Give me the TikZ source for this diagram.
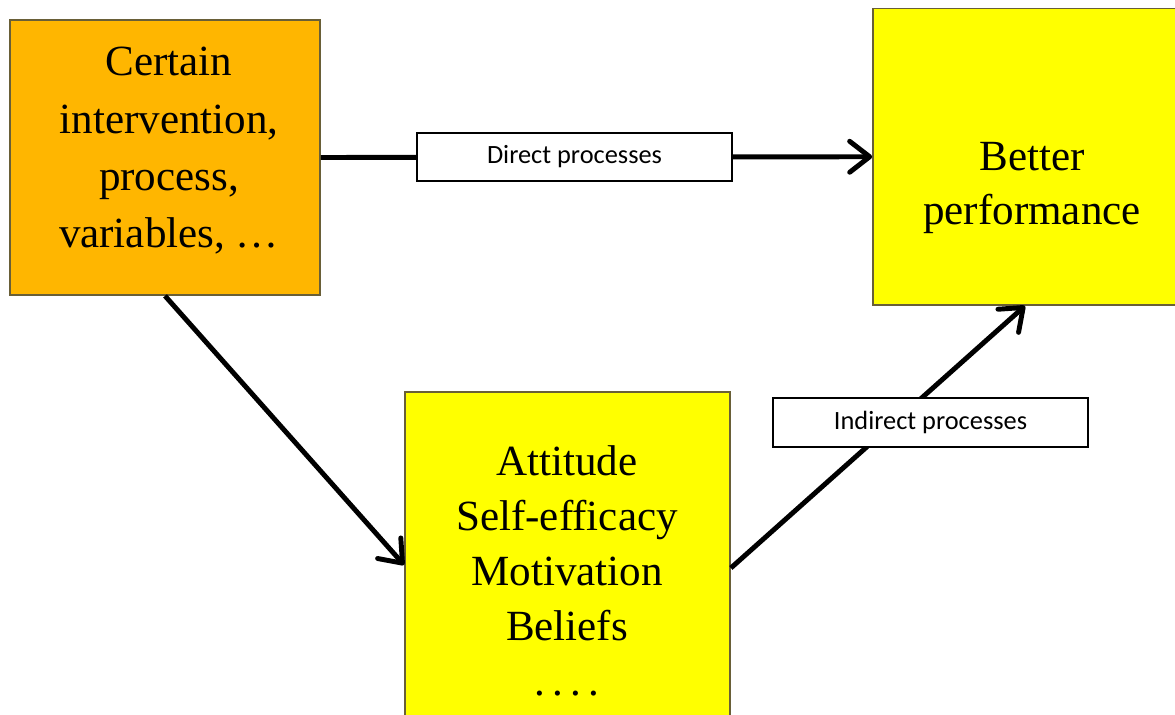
\documentclass[tikz,border=0pt]{standalone}
\usepackage{fontspec}
\setmainfont{Liberation Serif}
\newfontfamily\labelfont{Carlito}
\usetikzlibrary{positioning}
\usetikzlibrary{calc}
\usetikzlibrary{arrows.meta}

\definecolor{causeorange}{RGB}{255,182,0}
\definecolor{outcomeyellow}{RGB}{255,255,0}
\definecolor{boxrim}{RGB}{105,95,55}

\begin{document}
\begin{tikzpicture}[
  block/.style={draw=boxrim, line width=1pt, rectangle, inner sep=0pt},
  blocktext/.style={align=center, inner sep=0pt, anchor=base},
  process/.style={draw=black, line width=1pt, fill=white, rectangle, minimum width=6.3cm, minimum height=0.97cm, inner sep=0pt, font=\labelfont\fontsize{15}{18}\selectfont},
  flow/.style={-{Straight Barb[length=0.4cm, width=0.62cm, round]}, line width=2.8pt}
]

\useasboundingbox (0,0) rectangle (23.5,-14.3);
\clip (0,0) rectangle (23.5,-14.3);

\node[block, fill=causeorange, minimum width=6.2cm, minimum height=5.5cm] (CAUSE) at (3.3,-3.15) {};
\node[block, fill=outcomeyellow, minimum width=6.6cm, minimum height=5.93cm] (PERF) at (20.76,-3.135) {};
\node[block, fill=outcomeyellow, minimum width=6.5cm, minimum height=7.5cm] (MEDIATORS) at (11.35,-11.59) {};

% base anchor sits on the last line
\node[blocktext, font=\fontsize{24.5}{32.7}\selectfont] (CAUSETXT) at (3.38,-4.96) {Certain\\intervention,\\process,\\variables, …};
\node[blocktext, font=\fontsize{24.5}{31.2}\selectfont] (PERFTXT) at (20.64,-4.5) {Better\\performance};
\node[blocktext, font=\fontsize{24.5}{31.2}\selectfont] (MEDTXT) at (11.34,-13.9) {Attitude\\Self-efficacy\\Motivation\\Beliefs\\.\,.\,.\,.};

\coordinate (MEDIN)  at ($(MEDIATORS.west)+(0,0.29)$);
\coordinate (MEDOUT) at ($(MEDIATORS.east)+(0,0.23)$);
\coordinate (PERFIN) at ($(PERF.south)+(-0.26,0)$);

\draw[flow] (CAUSE.east) -- (PERF.west);
\draw[flow] (CAUSE.south) -- (MEDIN);
\draw[flow] (MEDOUT) -- (PERFIN);

\node[process] (DIRECT) at (11.49,-3.14) {Direct processes};
\node[process] (INDIRECT) at (18.61,-8.45) {Indirect processes};

\end{tikzpicture}
\end{document}
